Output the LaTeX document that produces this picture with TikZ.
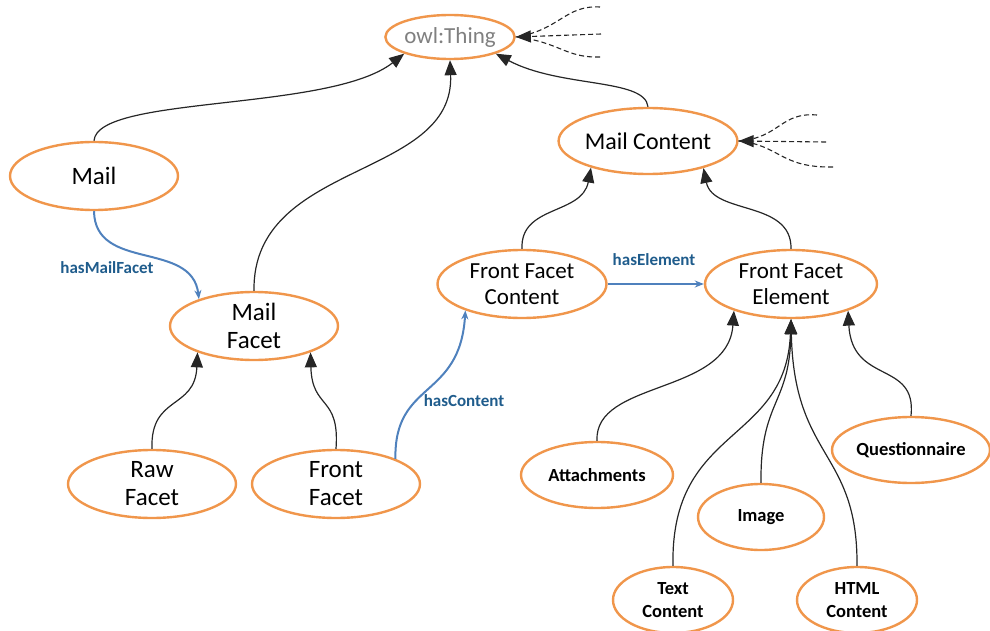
\documentclass[tikz,border=0pt]{standalone}
\usepackage{fontspec}
\setmainfont{Carlito}
\usetikzlibrary{shapes.geometric,arrows.meta}
\definecolor{orangeC}{RGB}{240,150,75}
\definecolor{relblue}{RGB}{79,129,189}
\definecolor{relText}{RGB}{31,92,140}
\definecolor{thingGrey}{RGB}{128,128,128}
\tikzset{
  cls/.style={ellipse, draw=orangeC, line width=2.4pt, fill=white, inner sep=0pt,
    align=center, font=\fontsize{25}{28}\selectfont},
  leaf/.style={cls, font=\bfseries\fontsize{18.5}{23}\selectfont},
  isa/.style={draw=black!85, line width=1.2pt, -{Triangle[length=15pt,width=12pt]}},
  rel/.style={draw=relblue, line width=2pt, -{Stealth[length=9pt,width=7pt]}},
  rellabel/.style={text=relText, font=\bfseries\fontsize{17}{20}\selectfont},
  more/.style={draw=black!85, line width=1.1pt, dash pattern=on 5pt off 3pt}
}
\begin{document}
\begin{tikzpicture}[x=1pt,y=-1pt]
\useasboundingbox (0,0) rectangle (990,631);

% classes
\node[cls, minimum width=126pt, minimum height=44pt, text=thingGrey,
      font=\fontsize{23}{26}\selectfont] (thing) at (450,37) {owl:Thing};
\node[cls, minimum width=168pt, minimum height=68pt] (mail) at (94,176) {Mail};
\node[cls, minimum width=168pt, minimum height=68pt] (mfacet) at (254,326) {Mail\\Facet};
\node[cls, minimum width=168pt, minimum height=68pt] (raw) at (152,484) {Raw\\Facet};
\node[cls, minimum width=168pt, minimum height=68pt] (front) at (336,484) {Front\\Facet};
\node[cls, minimum width=170pt, minimum height=66pt, font=\fontsize{24}{27}\selectfont] (mcontent) at (648,141) {Mail Content};
\node[cls, minimum width=169pt, minimum height=68pt, font=\fontsize{23}{26}\selectfont] (ffc) at (522,284) {Front Facet\\Content};
\node[cls, minimum width=172pt, minimum height=68pt, font=\fontsize{23}{26}\selectfont] (ffe) at (791,284) {Front Facet\\Element};
\node[leaf, minimum width=152pt, minimum height=66pt] (att) at (597,475) {Attachments};
\node[leaf, minimum width=126pt, minimum height=66pt] (img) at (761,517) {Image};
\node[leaf, minimum width=158pt, minimum height=66pt] (quest) at (911,450) {Questionnaire};
\node[leaf, minimum width=120pt, minimum height=66pt] (text) at (673,600) {Text\\Content};
\node[leaf, minimum width=120pt, minimum height=66pt] (html) at (857,600) {HTML\\Content};

% subclass links
\draw[isa] (mail.north) .. controls (97,95) and (330,112) .. (thing.-160);
\draw[isa] (mfacet.north) .. controls (252,160) and (455,180) .. (thing.south);
\draw[isa] (mcontent.north) .. controls (645,78) and (560,88) .. (thing.-20);
\draw[isa] (ffc.north) .. controls (520,205) and (582,215) .. (mcontent.-155);
\draw[isa] (ffe.north) .. controls (792,200) and (713,215) .. (mcontent.-26);
\draw[isa] (raw.north) .. controls (150,395) and (195,410) .. (mfacet.-155);
\draw[isa] (front.north) .. controls (340,395) and (312,410) .. (mfacet.-25);
\draw[isa] (att.north) .. controls (594,380) and (728,395) .. (ffe.-155);
\draw[isa] (img.north) .. controls (760,400) and (790,405) .. (ffe.south);
\draw[isa] (text.north) .. controls (670,425) and (786,445) .. (ffe.south);
\draw[isa] (html.north) .. controls (858,450) and (794,460) .. (ffe.south);
\draw[isa] (quest.north) .. controls (917,360) and (852,385) .. (ffe.-25);

% further subclasses, not shown
\coordinate (t1) at (600,7);
\coordinate (t2) at (601,34);
\coordinate (t3) at (600,57);
\coordinate (c1) at (817,115);
\coordinate (c2) at (826,142);
\coordinate (c3) at (833,167);
\draw[more] (t1) .. controls (565,5) and (560,30) .. (thing.east);
\draw[more] (t3) .. controls (565,58) and (560,42) .. (thing.east);
\draw[more, -{Triangle[length=15pt,width=12pt]}] (t2) -- (thing.east);
\draw[more] (c1) .. controls (780,112) and (780,138) .. (mcontent.east);
\draw[more] (c3) .. controls (780,168) and (780,145) .. (mcontent.east);
\draw[more, -{Triangle[length=15pt,width=12pt]}] (c2) -- (mcontent.east);

% object properties
\draw[rel] (mail.south) .. controls (95,272) and (192,240) .. (mfacet.154);
\node[rellabel] (lmf) at (107,268) {hasMailFacet};
\draw[rel] (front.23) .. controls (394,380) and (460,400) .. (ffc.-155);
\node[rellabel] (lhc) at (464,401) {hasContent};
\draw[rel] (ffc.east) -- (ffe.west);
\node[rellabel] (lhe) at (654,260) {hasElement};
\end{tikzpicture}
\end{document}
